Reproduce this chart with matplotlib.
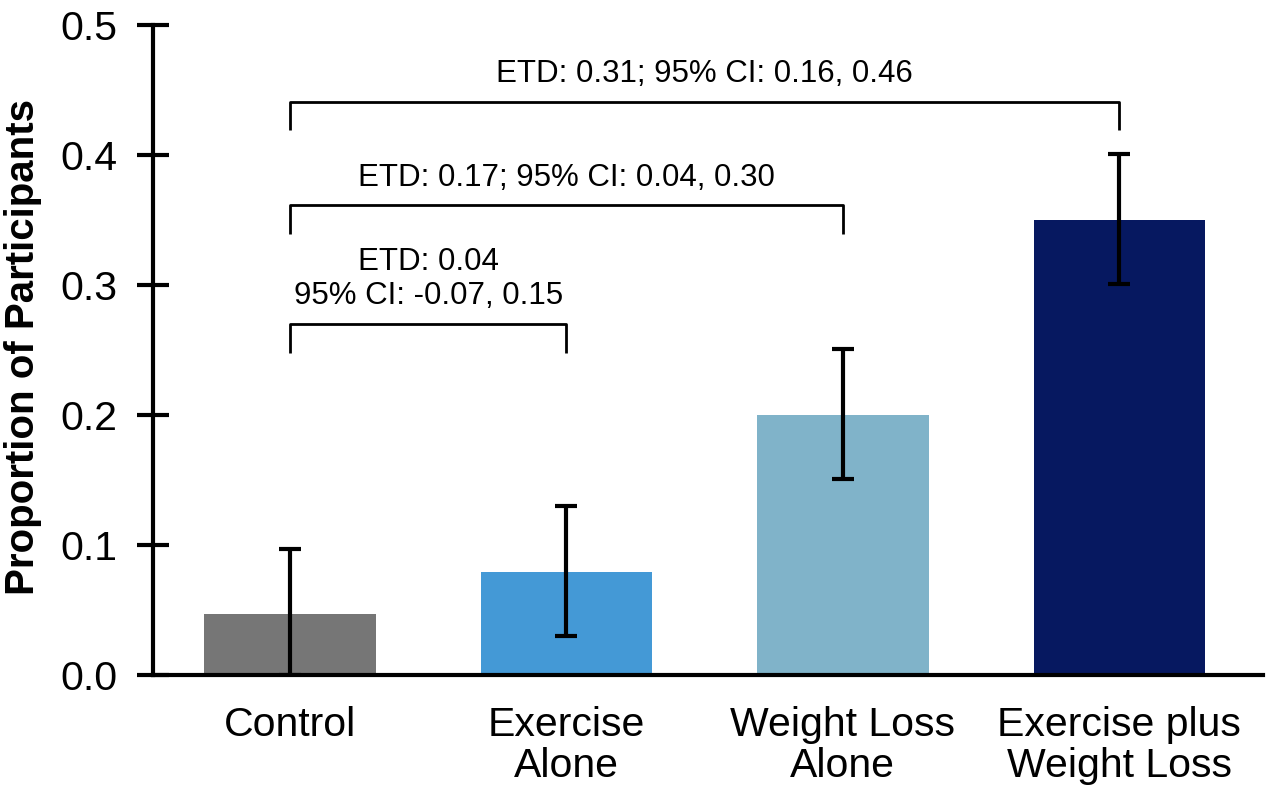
import matplotlib.pyplot as plt

plt.rcParams['font.family'] = ['Liberation Sans', 'DejaVu Sans']

groups = ['Control', 'Exercise\nAlone', 'Weight Loss\nAlone', 'Exercise plus\nWeight Loss']
proportion = [0.047, 0.079, 0.200, 0.350]
ci_low = [0.0, 0.030, 0.151, 0.301]
ci_high = [0.097, 0.130, 0.251, 0.401]
colors = ['#767676', '#4499d6', '#80b3c9', '#061860']

# comparisons vs control: (group index, bracket height, label)
comparisons = [
    (1, 0.270, 'ETD: 0.04\n95% CI: -0.07, 0.15'),
    (2, 0.3615, 'ETD: 0.17; 95% CI: 0.04, 0.30'),
    (3, 0.441, 'ETD: 0.31; 95% CI: 0.16, 0.46'),
]

fig = plt.figure(figsize=(12.7, 8.05), dpi=100)
ax = fig.add_axes([0.1205, 0.1615, 0.874, 0.8075])

x = list(range(len(groups)))
ax.bar(x, proportion, width=0.62, color=colors, zorder=1)

yerr = [[p - lo for p, lo in zip(proportion, ci_low)],
        [hi - p for p, hi in zip(proportion, ci_high)]]
ax.errorbar(x, proportion, yerr=yerr, fmt='none', ecolor='black',
            elinewidth=3, capsize=8, capthick=3, zorder=2)

drop = 0.022
for j, h, label in comparisons:
    ax.plot([0, 0, j, j], [h - drop, h, h, h - drop], color='black',
            lw=2, solid_joinstyle='round', solid_capstyle='butt', clip_on=False)
    nlines = label.count('\n') + 1
    ax.text(j / 2, h + 0.021 + 0.0135 * (nlines - 1), label, ha='center',
            va='center', fontsize=22.5, linespacing=1.15)

ax.set_xlim(-0.495, 3.52)
ax.set_ylim(0, 0.5)
ax.set_yticks([0.0, 0.1, 0.2, 0.3, 0.4, 0.5])
ax.set_yticklabels(['0.0', '0.1', '0.2', '0.3', '0.4', '0.5'])
ax.set_xticks(x)
ax.set_xticklabels(groups, fontsize=29.5, linespacing=1.1)

ax.tick_params(axis='y', direction='inout', length=23, width=3,
               labelsize=29.5, pad=14)
ax.tick_params(axis='x', length=0, pad=22)

for side in ['top', 'right']:
    ax.spines[side].set_visible(False)
ax.spines['left'].set_linewidth(3)
ax.spines['bottom'].set_linewidth(3)

ax.set_ylabel('Proportion of Participants', fontsize=29, fontweight='bold',
              va='center')
ax.yaxis.set_label_coords(-0.117, 0.505)

fig.savefig('out.png', dpi=100)
